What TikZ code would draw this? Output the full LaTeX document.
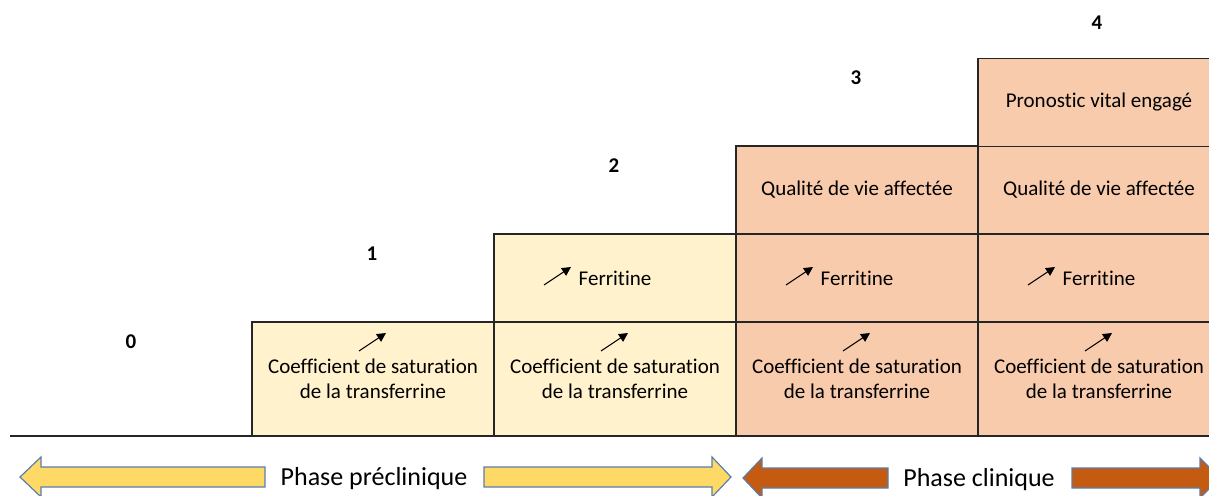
\documentclass[tikz,border=0pt]{standalone}
\usepackage{fontspec}
\setmainfont{Carlito}[Ligatures=NoCommon]
\usetikzlibrary{arrows.meta}
\definecolor{preclin}{HTML}{FFF2CC}
\definecolor{clin}{HTML}{F8CBAD}
\definecolor{jaune}{HTML}{FFD966}
\definecolor{brique}{HTML}{C55A11}
\definecolor{bord}{HTML}{5B7DAE}
\tikzset{
  cellule/.style={draw=black!85, line width=1.5pt, minimum width=242pt, minimum height=88pt,
    inner sep=0pt, align=center, font=\fontsize{21}{24.6}\selectfont},
  hausse/.style={-{Triangle[length=9pt,width=9pt]}, line width=1pt},
  niveau/.style={font=\fontsize{21}{24}\selectfont\bfseries},
  phase/.style={draw=bord, line width=1.2pt},
  phasetexte/.style={font=\fontsize{26}{30}\selectfont},
}
\begin{document}
\begin{tikzpicture}[x=1pt, y=-1pt]
    \clip (0,0) rectangle (1209,495);

    \foreach \c/\x/\col in {1/373/preclin, 2/615/preclin, 3/857/clin, 4/1099/clin}
    {
      \node[cellule, fill=\col, minimum height=114pt] (sat\c) at (\x,379) {Coefficient de saturation\\de la transferrine};
      \draw[hausse] ({\x-14},351) -- ({\x+13},333);
    }

    \foreach \c/\x/\col in {2/615/preclin, 3/857/clin, 4/1099/clin}
    {
      \node[cellule, fill=\col] (fer\c) at (\x,278) {Ferritine};
      \draw[hausse] ({\x-71},285) -- ({\x-44},267);
    }

    \foreach \c/\x in {3/857, 4/1099}
    {
      \node[cellule, fill=clin] (vie\c) at (\x,190) {Qualité de vie affectée};
    }

    \node[cellule, fill=clin] (vital4) at (1099,102.5) {Pronostic vital engagé};

    \draw[line width=1.8pt, black!85] (10,436) -- (1209,436);

    \foreach \n/\x/\y in {0/131/342, 1/372/254, 2/614/166, 3/856/78, 4/1097/23}
    {
      \node[niveau] (num\n) at (\x,\y) {\n};
    }

    \filldraw[phase, fill=jaune] (20,477) -- (41,457) -- (41,467) -- (265,467) -- (265,487) -- (41,487) -- (41,497) -- cycle;
    \filldraw[phase, fill=jaune] (484,467) -- (712,467) -- (712,457) -- (731,477) -- (712,497) -- (712,487) -- (484,487) -- cycle;
    \node[phasetexte] (preclinique) at (374,479) {Phase préclinique};

    \filldraw[phase, fill=brique] (743,478) -- (762,458) -- (762,468) -- (888,468) -- (888,488) -- (762,488) -- (762,498) -- cycle;
    \filldraw[phase, fill=brique] (1072,468) -- (1200,468) -- (1200,458) -- (1220,478) -- (1200,498) -- (1200,488) -- (1072,488) -- cycle;
    \node[phasetexte] (clinique) at (979,480) {Phase clinique};

\end{tikzpicture}
\end{document}
